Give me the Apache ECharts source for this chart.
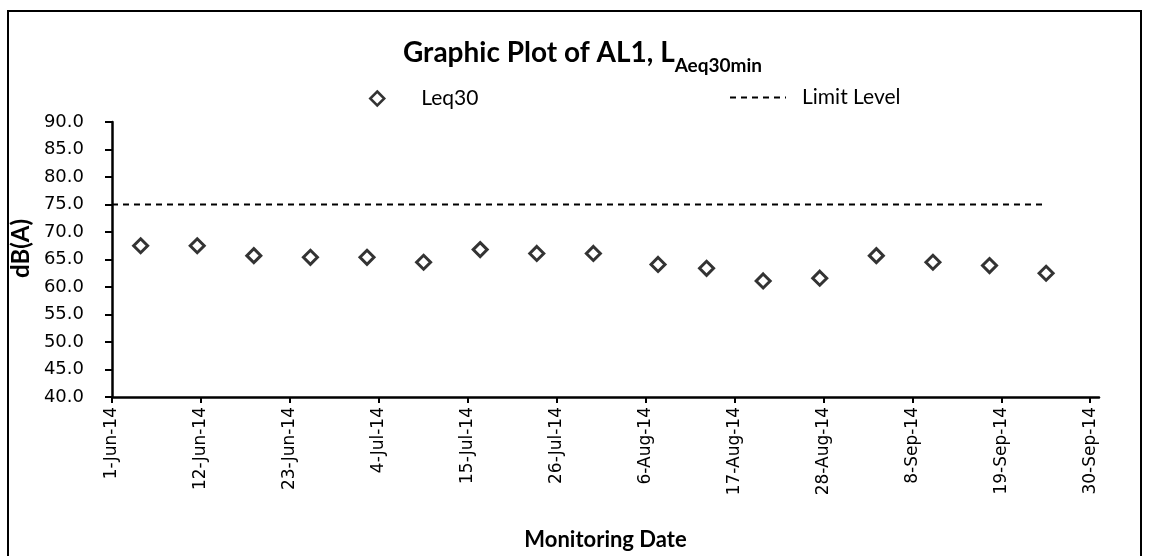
<!DOCTYPE html>
<html>
<head>
<meta charset="utf-8">
<script src="https://cdn.jsdelivr.net/npm/echarts@6/dist/echarts.min.js"></script>
<style>
html,body{margin:0;padding:0;background:#fff;}
#c{width:1149px;height:556px;}
</style>
</head>
<body>
<div id="c"></div>
<script>
// ---- data ----
const monitoringDates = ['2014-06-04T13:00','2014-06-11T13:00','2014-06-18T13:00','2014-06-25T13:00','2014-07-02T13:00','2014-07-09T13:00','2014-07-16T13:00','2014-07-23T13:00','2014-07-30T13:00','2014-08-07T13:00','2014-08-13T13:00','2014-08-20T13:00','2014-08-27T13:00','2014-09-03T13:00','2014-09-10T13:00','2014-09-17T13:00','2014-09-24T13:00'];
const leq30Values = [67.5, 67.5, 65.7, 65.4, 65.4, 64.5, 66.8, 66.1, 66.1, 64.1, 63.4, 61.1, 61.6, 65.7, 64.5, 63.9, 62.5];
const limitDates = ['2014-06-01', '2014-09-24T13:00'];
const limitValues = [75, 75];
const xTickDates = ['2014-06-01','2014-06-12','2014-06-23','2014-07-04','2014-07-15','2014-07-26','2014-08-06','2014-08-17','2014-08-28','2014-09-08','2014-09-19','2014-09-30'];
const xAxisMin = '2014-06-01';
const xAxisMax = '2014-10-01T02:00';
const yMin = 40, yMax = 90, yInterval = 5;

function toUTC(s){
  const parts = s.split('T');
  const d = parts[0].split('-').map(Number);
  const t = (parts[1] || '0:0').split(':').map(Number);
  return Date.UTC(d[0], d[1]-1, d[2], t[0], t[1]);
}
const MONTHS = ['Jan','Feb','Mar','Apr','May','Jun','Jul','Aug','Sep','Oct','Nov','Dec'];
function fmtDate(v){
  const d = new Date(v);
  return d.getUTCDate() + '-' + MONTHS[d.getUTCMonth()] + '-' + String(d.getUTCFullYear()).slice(2);
}

const leqData = monitoringDates.map((s,i)=>[toUTC(s), leq30Values[i]]);
const limitData = limitDates.map((s,i)=>[toUTC(s), limitValues[i]]);
const tickVals = xTickDates.map(toUTC);

const chart = echarts.init(document.getElementById('c'), null, {renderer:'canvas'});
const tickFont = 'DejaVu Sans';
const textFont = 'Lato';

chart.setOption({
  animation: false,
  backgroundColor: '#fff',
  graphic: [{
    type: 'rect',
    shape: {x: 8, y: 11, width: 1133, height: 560},
    style: {fill: 'none', stroke: '#000', lineWidth: 2},
    silent: true
  }],
  title: {
    text: '{a|Graphic Plot of AL1, L}{b|Aeq30min}',
    left: 398, top: 28,
    textStyle: {
      rich: {
        a: {fontFamily: textFont, fontWeight: 'bold', fontSize: 28, color: '#000', verticalAlign: 'bottom', lineHeight: 34},
        b: {fontFamily: textFont, fontWeight: 'bold', fontSize: 19, color: '#000', verticalAlign: 'bottom', padding: [0,0,-8,0], lineHeight: 34}
      }
    }
  },
  legend: [{
    data: ['Leq30'],
    left: 364, top: 83,
    itemWidth: 14, itemHeight: 14,
    itemStyle: {color: '#fff', borderColor: '#000', borderWidth: 2.5},
    textStyle: {fontFamily: textFont, fontSize: 21, color: '#000', padding: [0,0,0,32]}
  },{
    data: ['Limit Level'],
    left: 724, top: 82,
    itemWidth: 56, itemHeight: 14,
    itemStyle: {opacity: 0},
    lineStyle: {color: '#000', width: 2, type: [6,5]},
    textStyle: {fontFamily: textFont, fontSize: 21, color: '#000', padding: [0,0,0,11]}
  }],
  grid: {left: 112, right: 50, top: 122, bottom: 152},
  xAxis: {
    type: 'value',
    min: toUTC(xAxisMin), max: toUTC(xAxisMax),
    name: 'Monitoring Date',
    nameLocation: 'middle',
    nameGap: 132,
    nameTextStyle: {fontFamily: textFont, fontWeight: 'bold', fontSize: 22, color: '#000'},
    axisLine: {show: true, lineStyle: {color: '#000', width: 2.5}},
    axisTick: {show: true, customValues: tickVals, length: 6, lineStyle: {color: '#000', width: 2}},
    axisLabel: {customValues: tickVals, rotate: 90, formatter: fmtDate, fontFamily: tickFont, fontSize: 17, color: '#000', margin: 10},
    splitLine: {show: false}
  },
  yAxis: {
    type: 'value',
    min: yMin, max: yMax, interval: yInterval,
    name: 'dB(A)',
    nameLocation: 'middle',
    nameGap: 56,
    nameRotate: 90,
    nameTextStyle: {fontFamily: textFont, fontWeight: 'bold', fontSize: 24, color: '#000', padding: [0,0,0,22]},
    axisLine: {show: true, lineStyle: {color: '#000', width: 2.5}},
    axisTick: {show: true, length: 7, lineStyle: {color: '#000', width: 2}},
    axisLabel: {formatter: v => v.toFixed(1), fontFamily: tickFont, fontSize: 18, color: '#000', margin: 28},
    splitLine: {show: false}
  },
  series: [{
    name: 'Leq30',
    type: 'scatter',
    data: leqData,
    symbol: 'diamond',
    symbolSize: 14,
    itemStyle: {color: '#fff', borderColor: '#000', borderWidth: 3}
  },{
    name: 'Limit Level',
    type: 'line',
    data: limitData,
    symbol: 'none',
    lineStyle: {color: '#000', width: 2, type: [6,5]},
    itemStyle: {color: '#000'}
  }]
});
</script>
</body>
</html>
